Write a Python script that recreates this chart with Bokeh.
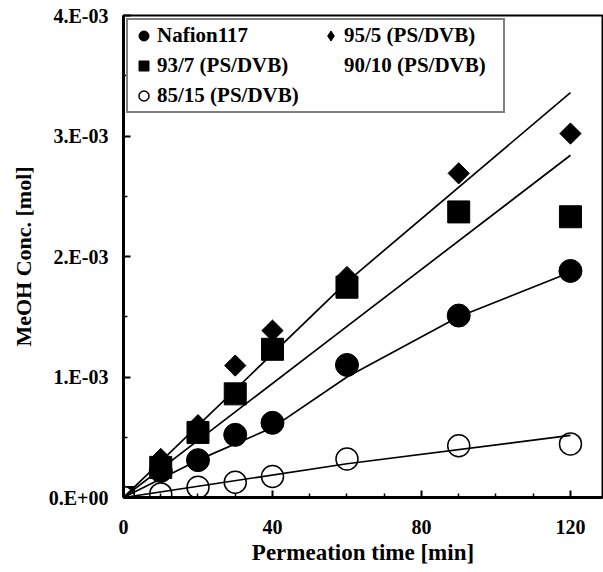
from bokeh.plotting import figure
from bokeh.models import Range1d, FixedTicker, Legend, LegendItem
from bokeh.embed import file_html
from bokeh.resources import INLINE
import math

# ---- data ----
time_min = [0, 10, 20, 30, 40, 60, 90, 120]
nafion117 = [0.0, 0.22e-3, 0.31e-3, 0.52e-3, 0.62e-3, 1.10e-3, 1.51e-3, 1.88e-3]
ps_95_5 = [0.0, 0.32e-3, 0.60e-3, 1.095e-3, 1.385e-3, 1.83e-3, 2.69e-3, 3.02e-3]
ps_93_7 = [0.0, 0.25e-3, 0.54e-3, 0.86e-3, 1.23e-3, 1.745e-3, 2.37e-3, 2.33e-3]
ps_90_10 = []
ps_85_15 = [0.0, 0.03e-3, 0.085e-3, 0.127e-3, 0.174e-3, 0.32e-3, 0.43e-3, 0.445e-3]

# trend lines drawn in the original
fit_time = [0, 60, 120]
fit_upper = [0.0, 1.79e-3, 3.36e-3]
fit_middle = [0.0, 1.42e-3, 2.84e-3]
fit_open = [0.0, 0.28e-3, 0.515e-3]
nafion_fit_time = [0, 20, 40, 60, 90, 120]
nafion_fit = [0.0, 0.31e-3, 0.58e-3, 1.00e-3, 1.50e-3, 1.87e-3]

x_ticks = [0, 40, 80, 120]
x_minor = [10, 20, 30, 50, 60, 70, 90, 100, 110]
y_ticks = [0.0, 0.001, 0.002, 0.003, 0.004]
y_tick_labels = ["0.E+00", "1.E-03", "2.E-03", "3.E-03", "4.E-03"]
y_minor = [0.0005, 0.0015, 0.0025, 0.0035]

labels = ["Nafion117", "95/5 (PS/DVB)", "93/7 (PS/DVB)", "90/10 (PS/DVB)", "85/15 (PS/DVB)"]

FONT = "Liberation Serif"

p = figure(width=603, height=572, output_backend="svg", toolbar_location=None,
           x_range=Range1d(0, 128.6), y_range=Range1d(0, 0.004),
           min_border_left=123, min_border_right=1, min_border_top=15, min_border_bottom=75)
p.background_fill_color = "white"
p.border_fill_color = "white"
p.grid.visible = False
p.outline_line_color = "black"
p.outline_line_width = 2

# legend-only diamond (sits at the origin, hidden under the other markers)
r_95_key = p.scatter(time_min[:1], ps_95_5[:1], marker="diamond", size=22,
                     fill_color="black", line_color="black")
# markers
r_naf = p.scatter(time_min, nafion117, marker="circle", size=23, fill_color="black", line_color="black")
r_95 = p.scatter(time_min, ps_95_5, marker="square", angle=math.pi / 4, size=15,
                 fill_color="black", line_color="black")
r_93 = p.scatter(time_min, ps_93_7, marker="square", size=22, fill_color="black", line_color="black")
r_90 = p.scatter(ps_90_10, ps_90_10, marker="circle", size=14, fill_alpha=0, line_alpha=0)
r_85 = p.scatter(time_min, ps_85_15, marker="circle", size=22, fill_color="white",
                 line_color="black", line_width=1.5)

# trend lines
p.line(fit_time, fit_upper, line_color="black", line_width=1.7)
p.line(fit_time, fit_middle, line_color="black", line_width=1.7)
p.line(nafion_fit_time, nafion_fit, line_color="black", line_width=1.7)
p.line(fit_time, fit_open, line_color="black", line_width=1.7)

# axes
xa = p.xaxis[0]
xa.ticker = FixedTicker(ticks=x_ticks, minor_ticks=x_minor)
xa.axis_label = "Permeation time [min]"
ya = p.yaxis[0]
ya.ticker = FixedTicker(ticks=y_ticks, minor_ticks=y_minor)
ya.major_label_overrides = {t: s for t, s in zip(y_ticks, y_tick_labels)}
ya.axis_label = "MeOH Conc. [mol]"
for ax in (xa, ya):
    ax.axis_line_width = 3
    ax.axis_line_color = "black"
    ax.major_tick_in = 7
    ax.major_tick_out = 0
    ax.minor_tick_in = 4
    ax.minor_tick_out = 0
    ax.major_tick_line_width = 2
    ax.minor_tick_line_width = 1.5
    ax.major_label_text_font = FONT
    ax.major_label_text_font_style = "bold"
    ax.major_label_text_font_size = "20px"
    ax.major_label_text_color = "black"
    ax.axis_label_text_font = FONT
    ax.axis_label_text_font_style = "bold"
    ax.axis_label_text_font_size = "22px"
    ax.axis_label_text_color = "black"
xa.axis_label_text_font_size = "23px"
xa.major_label_standoff = 22
xa.axis_label_standoff = 3
ya.major_label_standoff = 15
ya.axis_label_standoff = 10

legend = Legend(items=[LegendItem(label=labels[0], renderers=[r_naf]),
                       LegendItem(label=labels[1], renderers=[r_95_key]),
                       LegendItem(label=labels[2], renderers=[r_93]),
                       LegendItem(label=labels[3], renderers=[r_90]),
                       LegendItem(label=labels[4], renderers=[r_85])],
                location="top_left", orientation="horizontal", ncols=2,
                label_text_font=FONT, label_text_font_style="bold", label_text_font_size="21px",
                label_text_color="black", border_line_color="black", border_line_width=2,
                margin=3, padding=3, spacing=5, glyph_width=25, glyph_height=25,
                label_standoff=1, label_width=156, background_fill_alpha=1)
p.add_layout(legend)

open("out.html", "w").write(file_html(p, INLINE))
